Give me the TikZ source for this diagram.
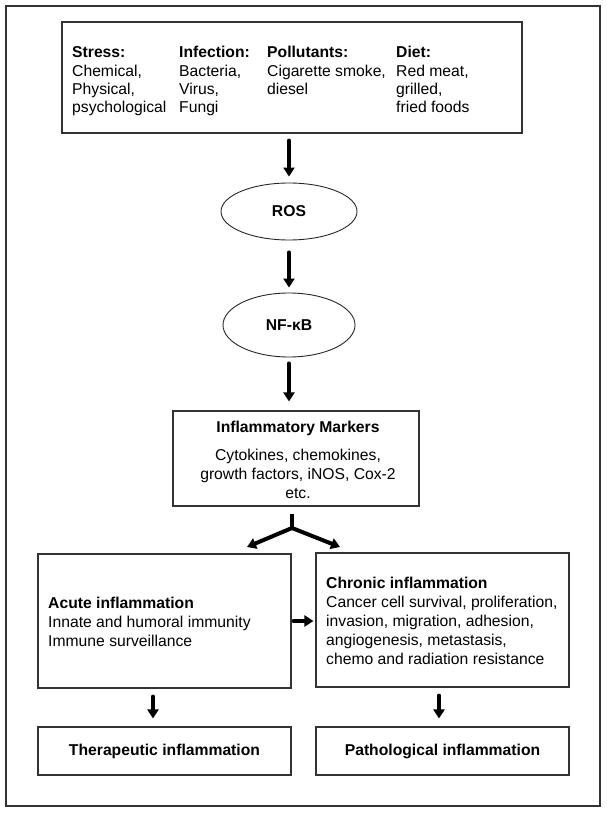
\documentclass[tikz,border=0pt]{standalone}
\usepackage{fontspec}
\setmainfont{Liberation Sans}
\usetikzlibrary{arrows.meta,shapes.geometric,calc}
\begin{document}
\begin{tikzpicture}[x=1pt,y=-1pt,
  box/.style={draw=black!80, line width=1.1pt, inner sep=0pt},
  oval/.style={ellipse, draw=black!85, line width=0.9pt, inner sep=0pt, font=\fontsize{15.7}{18}\selectfont\bfseries},
  txt/.style={inner sep=0pt, align=left, anchor=north west, font=\fontsize{15.7}{19}\selectfont},
  toptxt/.style={inner sep=0pt, align=left, anchor=north west, font=\fontsize{15.7}{18.3}\selectfont},
  boldtxt/.style={font=\fontsize{15.7}{19}\selectfont\bfseries},
  bigarrow/.style={line width=4pt, line cap=round, -{Triangle[length=9pt,width=11pt]}},
  stem/.style={line width=4pt}
]
\useasboundingbox (0,0) rectangle (607,813);
% outer frame
\node[box, minimum width=594pt, minimum height=800pt] (frame) at (303,406) {};
% top box
\node[box, minimum width=460pt, minimum height=111pt] (top) at (292,77.5) {};
\node[toptxt] (stress) at (72,44.8) {\strut\textbf{Stress:}\\Chemical,\\Physical,\\psychological};
\node[toptxt] (infect) at (179,44.8) {\strut\textbf{Infection:}\\Bacteria,\\Virus,\\Fungi};
\node[toptxt] (pollut) at (267,44.8) {\strut\textbf{Pollutants:}\\Cigarette smoke,\\diesel};
\node[toptxt] (diet) at (396,44.8) {\strut\textbf{Diet:}\\Red meat,\\grilled,\\fried foods};
% ellipses
\node[oval, minimum width=136pt, minimum height=57pt] (ros) at (289,211.5) {ROS};
\node[oval, minimum width=132pt, minimum height=64pt] (nf) at (289,325) {NF-κB};
% inflammatory markers
\node[box, minimum width=246pt, minimum height=95pt] (im) at (296,458.5) {};
\node[txt, align=center, anchor=north] (imtxt) at (298,419.3) {\strut\textbf{Inflammatory Markers}\\[9pt]Cytokines, chemokines,\\growth factors, iNOS, Cox-2\\etc.};
% acute / chronic
\node[box, minimum width=253pt, minimum height=134pt] (acute) at (164.5,621) {};
\node[txt] (acutetxt) at (48,595.3) {\strut\textbf{Acute inflammation}\\Innate and humoral immunity\\Immune surveillance};
\node[box, minimum width=253pt, minimum height=134pt] (chronic) at (442.5,620) {};
\node[txt] (chrontxt) at (326,575.3) {\strut\textbf{Chronic inflammation}\\Cancer cell survival, proliferation,\\invasion, migration, adhesion,\\angiogenesis, metastasis,\\chemo and radiation resistance};
% bottom boxes
\node[box, boldtxt, minimum width=253pt, minimum height=48pt] (ther) at (164.5,751) {Therapeutic inflammation};
\node[box, boldtxt, minimum width=253pt, minimum height=48pt] (path) at (442.5,751) {Pathological inflammation};
% arrows
\draw[bigarrow, shorten <=7pt, shorten >=6pt] (top.south -| ros.north) -- (ros.north);
\draw[bigarrow, shorten <=12pt, shorten >=5pt] (ros.south) -- (nf.north);
\draw[bigarrow, shorten <=6pt, shorten >=9pt] (nf.south) -- (nf.south |- im.north);
\coordinate (fork) at (292,528);
\coordinate (forkL) at (247,547);
\coordinate (forkR) at (340,547);
\draw[stem, shorten <=7pt] (im.south -| fork) -- (fork);
\draw[bigarrow] (fork) -- (forkL);
\draw[bigarrow] (fork) -- (forkR);
\draw[bigarrow, shorten <=2pt, shorten >=2pt] (acute.east) -- (chronic.west |- acute.east);
\draw[bigarrow, shorten <=8pt, shorten >=8pt] ([xshift=-11.5pt]acute.south) -- ([xshift=-11.5pt]ther.north);
\draw[bigarrow, shorten <=8pt, shorten >=8pt] ([xshift=-3.5pt]chronic.south) -- ([xshift=-3.5pt]path.north);
\end{tikzpicture}
\end{document}
